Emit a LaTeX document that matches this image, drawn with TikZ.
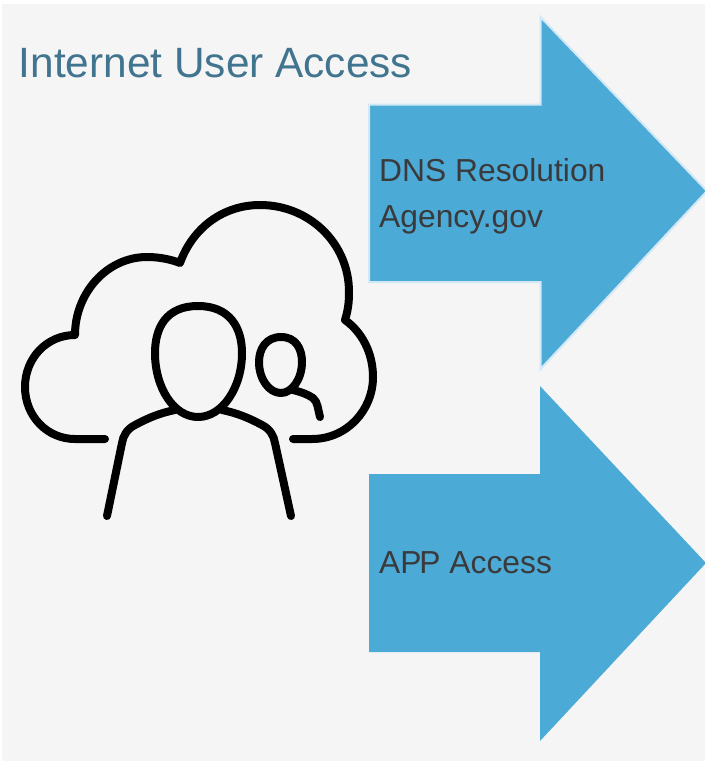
\documentclass[tikz,border=0pt]{standalone}
\usepackage{fontspec}
\setmainfont{Liberation Sans}
\definecolor{panel}{HTML}{F5F5F5}
\definecolor{arrowblue}{HTML}{4CAAD6}
\definecolor{arrowedge}{HTML}{D2E8F6}
\definecolor{titleblue}{HTML}{41748F}
\definecolor{labelgrey}{HTML}{3A3A3C}
\tikzset{
  icon/.style={draw=black,line width=8pt,line cap=round,line join=round},
  arrowshape/.style={fill=arrowblue},
  lbl/.style={anchor=base west,inner sep=0pt,text=labelgrey,font=\fontsize{31.8}{36}\selectfont},
  ttl/.style={anchor=base west,inner sep=0pt,text=titleblue,font=\fontsize{42.4}{48}\selectfont}
}
\begin{document}
\begin{tikzpicture}[x=1pt,y=-1pt]
\useasboundingbox (0,0) rectangle (705,764);
\fill[panel] (2,4) rectangle (705,761);
% arrows
\draw[arrowshape,draw=arrowedge,line width=2pt,line join=miter,miter limit=10]
  (369,104.5) -- (540.5,104.5) -- (540.5,17) -- (707,191) -- (540.5,369) -- (540.5,282) -- (369,282) -- cycle;
\fill[arrowshape]
  (369,474) -- (540,474) -- (540,386) -- (706,563) -- (540,741) -- (540,652) -- (369,652) -- cycle;
% cloud
\draw[icon] (293,439) -- (312,439)
  .. controls (347,439) and (373,410) .. (373,377)
  .. controls (373,353) and (362,332) .. (345,320)
  .. controls (348,310) and (349,303) .. (349,292)
  .. controls (349,243) and (309,205) .. (260,205)
  .. controls (224,205) and (193,227) .. (180,263)
  .. controls (170,259) and (158,257) .. (147,257)
  .. controls (107,257) and (75,293) .. (75,335)
  .. controls (47,335) and (25,358) .. (25,387)
  .. controls (25,416) and (47,439) .. (75,439)
  -- (105,439);
% large head
\draw[icon] (198,306)
  .. controls (230,306) and (242,328) .. (242,353)
  .. controls (242,388) and (222,417) .. (198,417)
  .. controls (174,417) and (155,388) .. (155,353)
  .. controls (155,328) and (166,306) .. (198,306) -- cycle;
% small head
\draw[icon] (281,337)
  .. controls (296,337) and (302,349) .. (302,362)
  .. controls (302,379) and (292,393) .. (281,393)
  .. controls (269,393) and (259,379) .. (259,362)
  .. controls (259,349) and (266,337) .. (281,337) -- cycle;
% small shoulder
\draw[icon] (293,390) .. controls (301,392) and (307,394) .. (313,398)
  .. controls (318,402) and (318,410) .. (320,417);
% body
\draw[icon] (175,410) .. controls (160,413) and (148,418) .. (135,425)
  .. controls (127,429) and (123,436) .. (122,443) -- (107,516);
\draw[icon] (222,410) .. controls (237,413) and (249,418) .. (262,425)
  .. controls (270,429) and (274,436) .. (275,443) -- (291,516);
% text
\node[ttl] (title) at (18.5,77) {Internet User Access};
\node[lbl] (dns) at (379,181) {DNS Resolution};
\node[lbl] (agency) at (379,227) {Agency.gov};
\node[lbl] (app) at (379,573) {AP\kern-2.2pt P Access};
\end{tikzpicture}
\end{document}
